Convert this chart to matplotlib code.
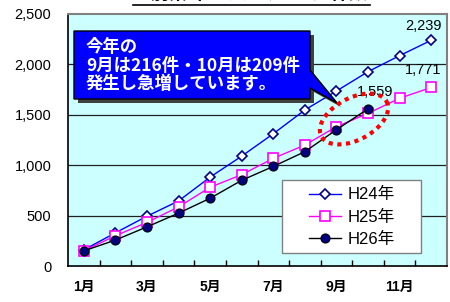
import numpy as np
import matplotlib
matplotlib.use('Agg')
import matplotlib.pyplot as plt
from matplotlib.patches import Polygon, Rectangle
from matplotlib.lines import Line2D

plt.rcParams['font.family'] = ['Liberation Sans', 'Noto Sans CJK JP']

# data
months = [1, 2, 3, 4, 5, 6, 7, 8, 9, 10, 11, 12]
month_labels = ['1月', '', '3月', '', '5月', '', '7月', '', '9月', '', '11月', '']
h24 = [160, 329, 494, 645, 882, 1090, 1312, 1548, 1736, 1928, 2087, 2239]
h25 = [150, 300, 432, 586, 781, 906, 1068, 1200, 1382, 1514, 1664, 1771]
h26 = [150, 257, 388, 524, 672, 850, 988, 1134, 1352, 1559]
series_names = ['H24年', 'H25年', 'H26年']
y_ticks = [0, 500, 1000, 1500, 2000, 2500]

W, H = 450, 302
fig = plt.figure(figsize=(W / 100, H / 100), dpi=100)
ax = fig.add_axes([68 / W, 1 - 266 / H, (447 - 68) / W, (266 - 14) / H])
ax.set_facecolor('#CCFFFF')


def px(x, y):
    # pixel (from top-left) -> figure fraction
    return (x / W, 1 - y / H)


ax.plot(months, h24, '-', color='#0000FF', lw=1.0, marker='D', ms=5.5,
        mfc='white', mec='#000080', mew=1.2, label=series_names[0], zorder=3)
ax.plot(months, h25, '-', color='#FF00FF', lw=1.0, marker='s', ms=6.5,
        mfc='white', mec='#FF00FF', mew=1.2, label=series_names[1], zorder=3)
ax.plot(months[:len(h26)], h26, '-', color='black', lw=1.0, marker='o', ms=6.5,
        mfc='#000080', mec='black', mew=0.8, label=series_names[2], zorder=4)

ax.set_xlim(0.5, 12.5)
ax.set_ylim(0, 2500)
ax.set_yticks(y_ticks)
ax.set_yticklabels(['{:,}'.format(v) for v in y_ticks], fontsize=10.5)
for v in y_ticks[1:-1]:
    ax.axhline(v, color='#202020', lw=0.9, zorder=1)
ax.tick_params(axis='y', length=0, pad=12)

ax.set_xticks(months)
ax.set_xticklabels(month_labels, fontsize=10, fontweight='bold')
ax.set_xticks(np.arange(1.5, 12.5, 1), minor=True)
ax.tick_params(axis='x', which='major', length=0, pad=10)
ax.tick_params(axis='x', which='minor', direction='in', length=4, width=1)

for s in ['left', 'bottom']:
    ax.spines[s].set_color('black')
    ax.spines[s].set_linewidth(1.2)
for s in ['top', 'right']:
    ax.spines[s].set_color('#808080')
    ax.spines[s].set_linewidth(1.5)

# end value labels
ax.annotate('{:,}'.format(h24[-1]), (12, h24[-1]), xytext=(-8, 7),
            textcoords='offset pixels', ha='center', va='bottom', fontsize=10.5)
ax.annotate('{:,}'.format(h25[-1]), (12, h25[-1]), xytext=(-8, 10),
            textcoords='offset pixels', ha='center', va='bottom', fontsize=10.5)
ax.annotate('{:,}'.format(h26[-1]), (10, h26[-1]), xytext=(7, 10),
            textcoords='offset pixels', ha='center', va='bottom', fontsize=10.5)

# legend with its own frame
ax.add_patch(Rectangle(px(282, 253), 139 / W, 73 / H, transform=fig.transFigure,
                       facecolor='white', edgecolor='#808080', lw=1, zorder=5,
                       clip_on=False))
leg = ax.legend(loc='center', bbox_to_anchor=px(352, 217), bbox_transform=fig.transFigure,
                fontsize=12, frameon=False, handlelength=1.9, handletextpad=0.4,
                labelspacing=0.42, borderpad=0)
leg.set_zorder(6)

# callout box
box = [(74, 31), (310, 31), (310, 70), (337, 103), (310, 88), (310, 99), (74, 99)]
shadow = [(x + 4, y + 4) for x, y in box]
fig.patches.append(Polygon([px(*p) for p in shadow], closed=True, transform=fig.transFigure,
                           facecolor='#404040', edgecolor='none', zorder=5))
fig.patches.append(Polygon([px(*p) for p in box], closed=True, transform=fig.transFigure,
                           facecolor='#0000FF', edgecolor='black', lw=1, zorder=6))
callout = ['今年の', '9月は216件・10月は209件', '発生し急増しています。']
for i, line in enumerate(callout):
    fig.text(*px(86, 47 + 18.5 * i), line, color='white', fontsize=12.5,
             fontweight='bold', va='center', ha='left', zorder=7,
             family=['Noto Sans CJK JP'])

# red dotted ellipse
t = np.linspace(0, 2 * np.pi, 200)
a, b, ang = 37, 21, np.deg2rad(-28)
ex = 354 + a * np.cos(t) * np.cos(ang) - b * np.sin(t) * np.sin(ang)
ey = 119 + a * np.cos(t) * np.sin(ang) + b * np.sin(t) * np.cos(ang)
fig.lines.append(Line2D(ex / W, 1 - ey / H, transform=fig.transFigure, color='red',
                        lw=3, linestyle=(0, (1, 1.1)), zorder=8))

# clipped title at the top
fig.text(*px(251, 3.2), '月別累計ひったくり認知件数', fontsize=13, fontweight='bold',
         ha='center', va='bottom', family=['Noto Sans CJK JP'])
fig.lines.append(Line2D([133 / W, 370 / W], [1 - 5 / H, 1 - 5 / H],
                        transform=fig.transFigure, color='black', lw=1.2))

fig.savefig('out.png', dpi=100)
